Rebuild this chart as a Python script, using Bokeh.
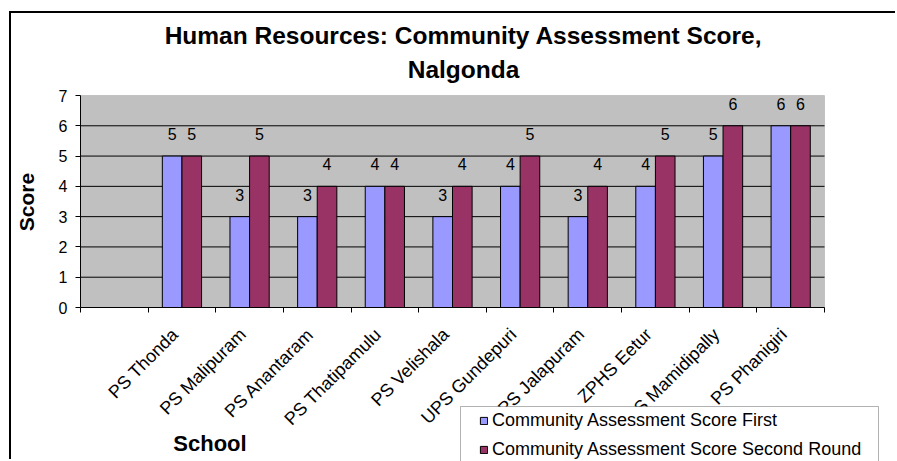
import math
from bokeh.plotting import figure
from bokeh.models import (Range1d, FixedTicker, Label, Legend, LegendItem,
                          ColumnDataSource, BoxAnnotation)
from bokeh.embed import file_html
from bokeh.resources import INLINE
from bokeh.core.properties import value

# ---- data ----
schools = ["", "PS Thonda", "PS Malipuram", "PS Anantaram", "PS Thatipamulu",
           "PS Velishala", "UPS Gundepuri", "PS Jalapuram", "ZPHS Eetur",
           "PS Mamidipally", "PS Phanigiri"]
first_round = [None, 5, 3, 3, 4, 3, 4, 3, 4, 5, 6]
second_round = [None, 5, 5, 4, 4, 4, 5, 4, 5, 6, 6]
y_ticks = [0, 1, 2, 3, 4, 5, 6, 7]
series_names = ["Community Assessment Score First",
                "Community Assessment Score Second Round"]
title_lines = ["Human Resources: Community Assessment Score,", "Nalgonda"]

FONT = "Liberation Sans"
n = len(schools)
centers = [i + 0.5 for i in range(n)]
idx = [i for i in range(n) if first_round[i] is not None]
BW = 0.29
LABEL_SHIFT = 0.1
Y_MIN, Y_MAX = y_ticks[0], y_ticks[-1]

src1 = ColumnDataSource(dict(x=[centers[i] - BW / 2 for i in idx],
                             top=[first_round[i] for i in idx],
                             lab=[str(first_round[i]) for i in idx]))
src2 = ColumnDataSource(dict(x=[centers[i] + BW / 2 for i in idx],
                             top=[second_round[i] for i in idx],
                             lab=[str(second_round[i]) for i in idx]))

# canvas geometry (canvas origin is offset 11,13 on the page); the frame
# fills the whole canvas and the grey plot area sits inside it
W, H = 886, 448
PL, PT, PR, PB = 69, 82, 813, 294      # plot-area edges in canvas px
sx_unit = (PR - PL) / n
sy_unit = (PB - PT) / (Y_MAX - Y_MIN)
x_range = Range1d(0 - PL / sx_unit, n + (W - PR) / sx_unit)
y_range = Range1d(Y_MIN - (H - PB) / sy_unit, Y_MAX + PT / sy_unit)

p = figure(width=W, height=H, x_range=x_range, y_range=y_range,
           output_backend="svg", toolbar_location=None,
           min_border_left=0, min_border_right=0, min_border_top=0,
           min_border_bottom=0)
p.styles = {"margin-left": "11px", "margin-top": "13px",
            "box-shadow": "-2px -2px 0px 0px black"}
p.background_fill_color = "white"
p.border_fill_color = "white"
p.outline_line_color = None
p.xgrid.visible = False
p.ygrid.visible = False

# grey plot area
p.add_layout(BoxAnnotation(left=0, right=n, bottom=Y_MIN, top=Y_MAX,
                           fill_color="#C0C0C0", fill_alpha=1,
                           line_color="#808080", line_width=1, level="image"))
# horizontal gridlines
grid_y = y_ticks[1:-1]
p.segment(x0=[0] * len(grid_y), x1=[n] * len(grid_y), y0=grid_y, y1=grid_y,
          line_color="black", line_width=1, level="underlay")

# x axis, pinned at y = 0
xa = p.xaxis[0]
xa.fixed_location = Y_MIN
xa.bounds = (0, n)
label_ticks = [c - LABEL_SHIFT for c in centers]
xa.ticker = FixedTicker(ticks=label_ticks, minor_ticks=list(range(n + 1)))
xa.major_label_overrides = {t: s for t, s in zip(label_ticks, schools)}
xa.major_tick_line_color = None
xa.major_tick_in = 0
xa.major_tick_out = 0
xa.minor_tick_line_color = "black"
xa.minor_tick_in = 0
xa.minor_tick_out = 5
xa.major_label_orientation = math.pi / 4
xa.major_label_standoff = 19
xa.major_label_text_font = FONT
xa.major_label_text_font_size = "18px"
xa.major_label_text_color = "black"
xa.axis_line_color = "black"

# y axis, pinned at x = 0
ya = p.yaxis[0]
ya.fixed_location = 0
ya.bounds = (Y_MIN, Y_MAX)
ya.ticker = FixedTicker(ticks=y_ticks)
ya.major_tick_in = 0
ya.major_tick_out = 5
ya.minor_tick_line_color = None
ya.major_label_standoff = 8
ya.major_label_text_font = FONT
ya.major_label_text_font_size = "16px"
ya.major_label_text_color = "black"
ya.axis_line_color = "black"

r1 = p.vbar(x="x", top="top", bottom=Y_MIN, width=BW, source=src1,
            fill_color="#9999FF", line_color="black", line_width=1)
r2 = p.vbar(x="x", top="top", bottom=Y_MIN, width=BW, source=src2,
            fill_color="#993366", line_color="black", line_width=1)

for src in (src1, src2):
    p.text(x="x", y="top", text="lab", source=src, text_align="center",
           text_baseline="middle", y_offset=-22,
           text_font=value(FONT), text_font_size="16px", text_color="black")

# legend box + legend
p.add_layout(BoxAnnotation(left=449, right=867, top=393, bottom=470,
                           left_units="canvas", right_units="canvas",
                           top_units="canvas", bottom_units="canvas",
                           fill_color="white", fill_alpha=1,
                           line_color="black", line_width=1))
LEG_TOP, LEG_H = 399, 48
legend = Legend(items=[LegendItem(label=series_names[0], renderers=[r1]),
                       LegendItem(label=series_names[1], renderers=[r2])],
                location=(468, H - LEG_TOP - LEG_H), padding=0, margin=0,
                spacing=8, glyph_width=9, glyph_height=9, label_height=20,
                label_standoff=4, label_text_font=FONT,
                label_text_font_size="18px", label_text_color="black",
                border_line_color=None, background_fill_alpha=0)
p.add_layout(legend, "center")

# titles
for txt, ym in zip(title_lines, (22, 56)):
    p.add_layout(Label(x=452, y=ym, x_units="canvas", y_units="canvas",
                       text=txt, text_align="center",
                       text_baseline="middle", text_font=FONT,
                       text_font_style="bold", text_font_size="24.5px",
                       text_color="black"))
p.add_layout(Label(x=14.5, y=188.5, x_units="canvas", y_units="canvas",
                   text="Score", angle=math.pi / 2, text_align="center",
                   text_baseline="middle", text_font=FONT,
                   text_font_style="bold", text_font_size="21px",
                   text_color="black"))
p.add_layout(Label(x=198.5, y=429.5, x_units="canvas", y_units="canvas",
                   text="School", text_align="center",
                   text_baseline="middle", text_font=FONT,
                   text_font_style="bold", text_font_size="22px",
                   text_color="black"))

open("out.html", "w").write(file_html(p, INLINE))
